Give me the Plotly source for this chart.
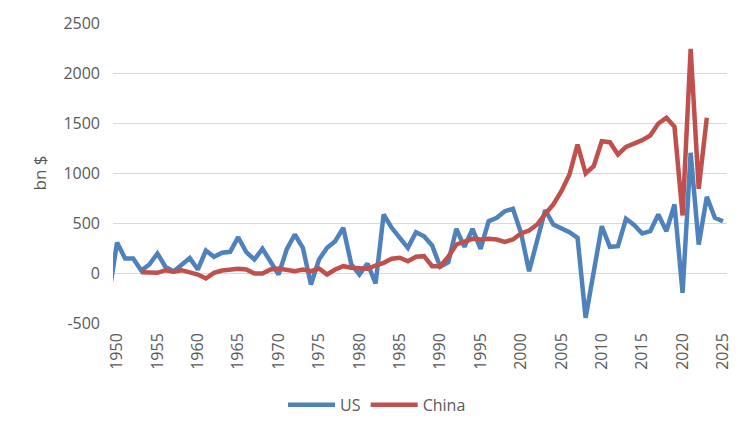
import plotly.graph_objects as go

us_years = list(range(1949, 2026))
us_values = [-220, 305, 145, 145, 25, 85, 195, 60, 15, 85, 150,
             35, 225, 162, 202, 212, 358, 208, 135, 242, 118,
             -15, 235, 385, 252, -115, 135, 252, 318, 452, 85,
             -15, 95, -105, 585, 452, 352, 252, 408, 368, 275,
             62, 108, 442, 262, 442, 242, 518, 552, 618, 642,
             402, 18, 305, 630, 485, 442, 408, 352, -448, 10,
             468, 262, 268, 542, 480, 395, 418, 585, 418, 685,
             -198, 1202, 285, 762, 552, 518]

china_years = list(range(1953, 2024))
china_values = [8, 2, 2, 28, 12, 28, 8,
                -15, -55, 2, 25, 35, 42, 35, -5, -5, 35,
                45, 35, 18, 35, 18, 45, -15, 35, 68, 52,
                52, 42, 75, 102, 142, 152, 118, 162, 168, 68,
                68, 162, 285, 318, 342, 335, 342, 335, 312, 335,
                395, 425, 485, 590, 685, 818, 985, 1285, 995, 1068,
                1318, 1308, 1185, 1262, 1295, 1328, 1375, 1495, 1552, 1462,
                575, 2242, 842, 1552]

label_years = list(range(1950, 2026, 5))
boundary_ticks = [y - 0.5 for y in label_years]
y_ticks = [-500, 0, 500, 1000, 1500, 2000, 2500]
y_labels = ["-500", "0", "500", "1000", "1500", "2000", "2500"]

BLUE = "#4F81BD"
RED = "#C0504D"
GRID = "#D9D9D9"
TXT = "#595959"
FONT = "Open Sans"

fig = go.Figure()
fig.add_trace(go.Scatter(x=us_years, y=us_values, mode="lines", name="US",
                         line=dict(color=BLUE, width=4.5)))
fig.add_trace(go.Scatter(x=china_years, y=china_values, mode="lines", name="China",
                         line=dict(color=RED, width=4.5)))

fig.update_layout(
    width=750, height=435,
    margin=dict(l=113, r=23, t=23, b=112),
    paper_bgcolor="white", plot_bgcolor="white",
    font=dict(family=FONT, size=16, color=TXT),
    xaxis=dict(range=[1949.5, 2025.5], tickmode="array", tickvals=label_years,
               ticktext=[str(y) for y in label_years], tickangle=-90,
               ticks="", showgrid=False, zeroline=False, showline=False,
               ticklabelstandoff=6, tickfont=dict(size=16, color=TXT)),
    xaxis2=dict(range=[1949.5, 2025.5], overlaying="x", anchor="free",
                position=1/6, tickmode="array", tickvals=boundary_ticks,
                ticks="outside", ticklen=5, tickwidth=1.3, tickcolor=GRID,
                showticklabels=False, showgrid=False, zeroline=False,
                showline=False),
    yaxis=dict(range=[-500, 2500], tickmode="array", tickvals=y_ticks,
               ticktext=y_labels, showgrid=True,
               gridcolor=GRID, gridwidth=1.3, zeroline=True,
               zerolinecolor=GRID, zerolinewidth=1.3, ticks="",
               ticklabelstandoff=12, tickfont=dict(size=16, color=TXT),
               title=dict(text="bn $", font=dict(size=17, color=TXT),
                          standoff=12)),
    showlegend=True,
    legend=dict(orientation="h", x=0.43, xanchor="center", y=-0.273,
                yanchor="middle", font=dict(size=16, color=TXT),
                itemwidth=47, bgcolor="rgba(0,0,0,0)"),
)

fig.write_html("out.html")
